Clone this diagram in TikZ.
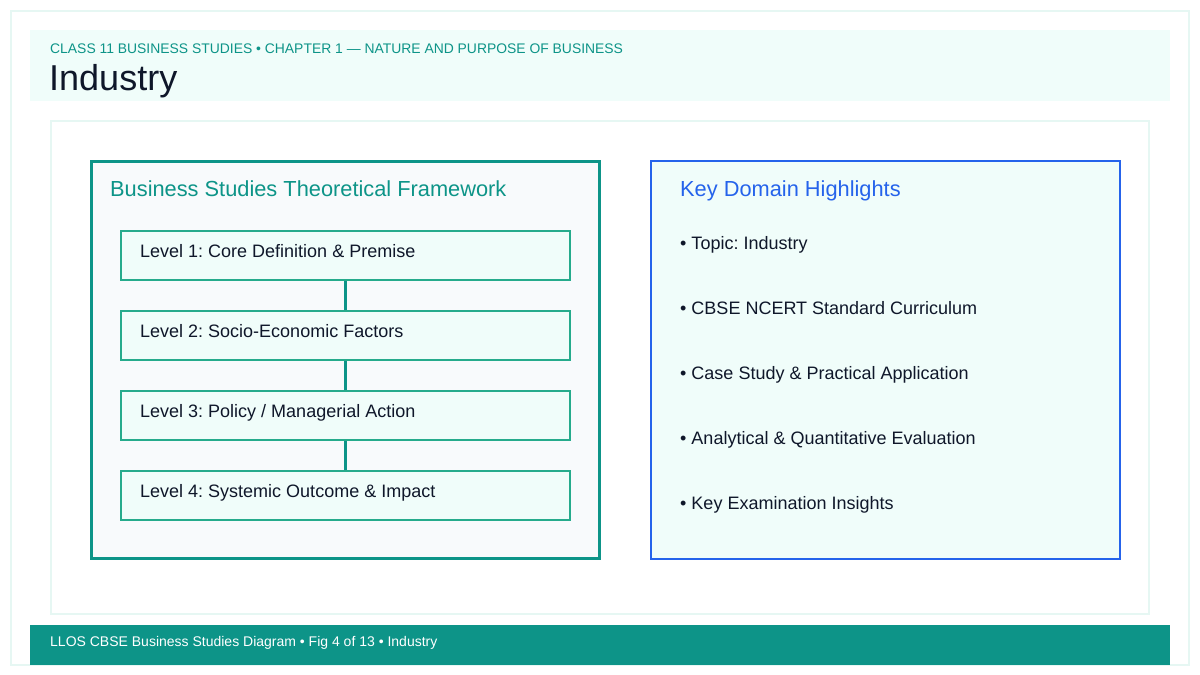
\documentclass[tikz,border=0pt]{standalone}
\usepackage{fontspec}
\setmainfont{Liberation Sans}
\usetikzlibrary{positioning}
\frenchspacing
\definecolor{mintbg}{HTML}{F0FDFA}
\definecolor{mintline}{HTML}{E6F7F3}
\definecolor{deepteal}{HTML}{0D9488}
\definecolor{lvlline}{HTML}{26AB8C}
\definecolor{panelbg}{HTML}{F8FAFC}
\definecolor{keyblue}{HTML}{2563EB}
\definecolor{inkdark}{HTML}{0F172A}
\tikzset{
  lvl/.style={draw=lvlline, line width=2pt, fill=mintbg, minimum width=449pt, minimum height=49pt, inner sep=0pt},
  lvltxt/.style={anchor=base west, inner sep=0pt, text=inkdark, font=\fontsize{18}{21}\selectfont},
  bullet/.style={anchor=base west, inner sep=0pt, text=inkdark, font=\fontsize{18}{21}\selectfont},
  link/.style={draw=deepteal, line width=2.8pt},
  paneltitle/.style={anchor=base west, inner sep=0pt, font=\fontsize{21.8}{25}\selectfont}
}
\begin{document}
\begin{tikzpicture}[x=1pt, y=-1pt, line join=miter]
	\useasboundingbox (0,0) rectangle (1200,675);
	% frame, header and footer
	\draw[mintline, line width=2pt] (11,11) rectangle (1189,665);
	\fill[mintbg] (30,30) rectangle (1170,101);
	\node[anchor=base west, inner sep=0pt, text=deepteal, font=\fontsize{13.9}{16}\selectfont] (sub) at (50,53) {CLASS 11 BUSINESS STUDIES • CHAPTER 1 — NATURE AND PURPOSE OF BUSINESS};
	\node[anchor=base west, inner sep=0pt, text=inkdark, font=\fontsize{36}{40}\selectfont] (title) at (49,90) {Industry};
	\draw[mintline, line width=1.5pt, fill=white] (51,121) rectangle (1149,614);
	\fill[deepteal] (30,625) rectangle (1170,665);
	\node[anchor=base west, inner sep=0pt, text=white, font=\fontsize{14}{16}\selectfont] (foot) at (50,646) {LLOS CBSE Business Studies Diagram • Fig 4 of 13 • Industry};
	% left panel
	\draw[deepteal, line width=3pt, fill=panelbg] (91.5,161.5) rectangle (599,558.5);
	\node[paneltitle, text=deepteal] (lefttitle) at (110,196) {Business Studies Theoretical Framework};
	\node[lvl] (lv1) at (345.5,255.5) {};
	\node[lvl] (lv2) at (345.5,335.5) {};
	\node[lvl] (lv3) at (345.5,415.5) {};
	\node[lvl] (lv4) at (345.5,495.5) {};
	\draw[link] (lv1.south) -- (lv2.north);
	\draw[link] (lv2.south) -- (lv3.north);
	\draw[link] (lv3.south) -- (lv4.north);
	\node[lvltxt] (lv1t) at (140,257) {Level 1: Core Definition \& Premise};
	\node[lvltxt] (lv2t) at (140,337) {Level 2: Socio-Economic Factors};
	\node[lvltxt] (lv3t) at (140,417) {Level 3: Policy / Managerial Action};
	\node[lvltxt] (lv4t) at (140,497) {Level 4: Systemic Outcome \& Impact};
	% right panel
	\draw[keyblue, line width=2pt, fill=mintbg] (651,161) rectangle (1120,559);
	\node[paneltitle, text=keyblue] (righttitle) at (680,196) {Key Domain Highlights};
	\node[bullet] (b1) at (680,249) {• Topic: Industry};
	\node[bullet] (b2) at (680,314) {• CBSE NCERT Standard Curriculum};
	\node[bullet] (b3) at (680,379) {• Case Study \& Practical Application};
	\node[bullet] (b4) at (680,444) {• Analytical \& Quantitative Evaluation};
	\node[bullet] (b5) at (680,509) {• Key Examination Insights};
\end{tikzpicture}
\end{document}
